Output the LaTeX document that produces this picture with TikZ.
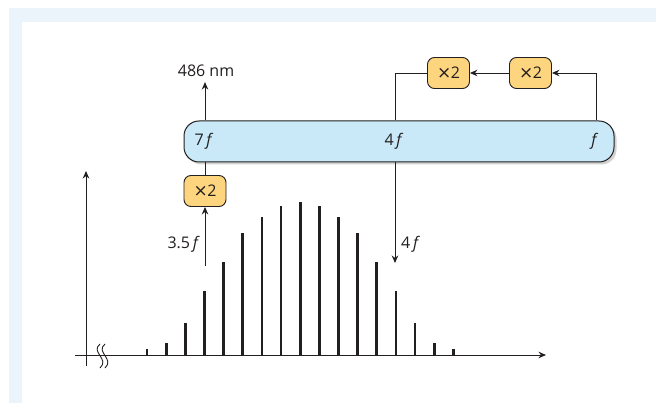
\documentclass[tikz,border=0pt]{standalone}
\usepackage{fontspec}
\setmainfont{Open Sans}
\newfontfamily\symfont{DejaVu Sans}
\usetikzlibrary{arrows.meta,shadows}
\definecolor{bgblue}{HTML}{EBF3FB}
\definecolor{barblue}{HTML}{C9E8F8}
\definecolor{boxyel}{HTML}{FCD57E}
\definecolor{ink}{HTML}{231F20}
\newcommand{\timestwo}{{\symfont\fontsize{17}{19}\selectfont ×}\kern-0.5pt2}
\begin{document}
\begin{tikzpicture}[x=1pt,y=-1pt,
  txt/.style={inner sep=0pt, text=ink, font=\fontsize{16}{19}\selectfont},
  barshape/.style={draw=ink, line width=1pt, fill=barblue, rounded corners=15pt,
    minimum width=430pt, minimum height=41pt, inner sep=0pt,
    drop shadow={shadow xshift=2.5pt, shadow yshift=-2.5pt, opacity=0.35, fill=gray}},
  dblbox/.style={draw=ink, line width=0.9pt, fill=boxyel, rounded corners=7pt,
    minimum width=42pt, minimum height=31pt, inner sep=0pt, text=ink,
    font=\fontsize{16}{19}\selectfont},
  conn/.style={draw=ink, line width=0.9pt},
  arr/.style={conn, -{Stealth[length=7.5pt,width=6.5pt]}},
  axis/.style={draw=ink, line width=1pt, -{Stealth[length=7.5pt,width=6.5pt]}},
  specline/.style={draw=ink, line width=2.7pt}
]
\useasboundingbox (0,0) rectangle (656,403);
\fill[white] (0,0) rectangle (656,403);
\fill[bgblue] (9,8) rectangle (656,22);
\fill[bgblue] (9,8) rectangle (22,403);

% comb bar
\node[barshape] (comb) at (399,141.5) {};
\node[txt] (l7) at (204,141) {7\,\textit{f}};
\node[txt] (l4) at (394,141) {4\,\textit{f}};
\node[txt] (lf) at (595,141) {\textit{f}};
\coordinate (x7) at (205,141);
\coordinate (x4) at (395,141);
\coordinate (xf) at (596,141);

% top
\node[txt] (nm) at (206,71) {486 nm};
\draw[arr, shorten >=5pt] (comb.north -| x7) -- (nm.south -| x7);
\node[dblbox] (xb) at (448.5,73) {\timestwo};
\node[dblbox] (xc) at (530.5,73) {\timestwo};
\draw[conn] (comb.north -| x4) |- (xb.west);
\draw[arr] (xc.west) -- (xb.east);
\draw[arr] (comb.north -| xf) |- (xc.east);

% lower doubler
\node[dblbox] (xa) at (205,191) {\timestwo};
\draw[conn] (comb.south -| xa.north) -- (xa.north);
\coordinate (s35) at (205,266);
\draw[arr] (s35) -- (xa.south);
\node[txt, anchor=east] (l35) at (200,244) {3.5\,\textit{f}};

% 4f down
\coordinate (d4) at (395,263);
\draw[arr] (comb.south -| x4) -- (d4);
\node[txt, anchor=west] (l4d) at (401,244) {4\,\textit{f}};

% axes
\coordinate (ax0) at (75,355);
\coordinate (ax1) at (546,355);
\coordinate (ay0) at (86,366);
\coordinate (ay1) at (86,171);
\draw[axis] (ax0) -- (ax1);
\draw[axis] (ay0) -- (ay1);
% break mark
\draw[ink, line width=0.9pt] (100,344) .. controls (90,352) and (110,359) .. (100,368);
\draw[ink, line width=0.9pt] (105,344) .. controls (95,352) and (115,359) .. (105,368);

% spectral lines
\foreach \h [count=\i from 0] in {6,12,32,64,93,122,138,149,153,149,138,122,93,64,32,12,6}{
  \draw[specline] (147+19.15*\i,355) -- (147+19.15*\i,355-\h);
}
\end{tikzpicture}
\end{document}
